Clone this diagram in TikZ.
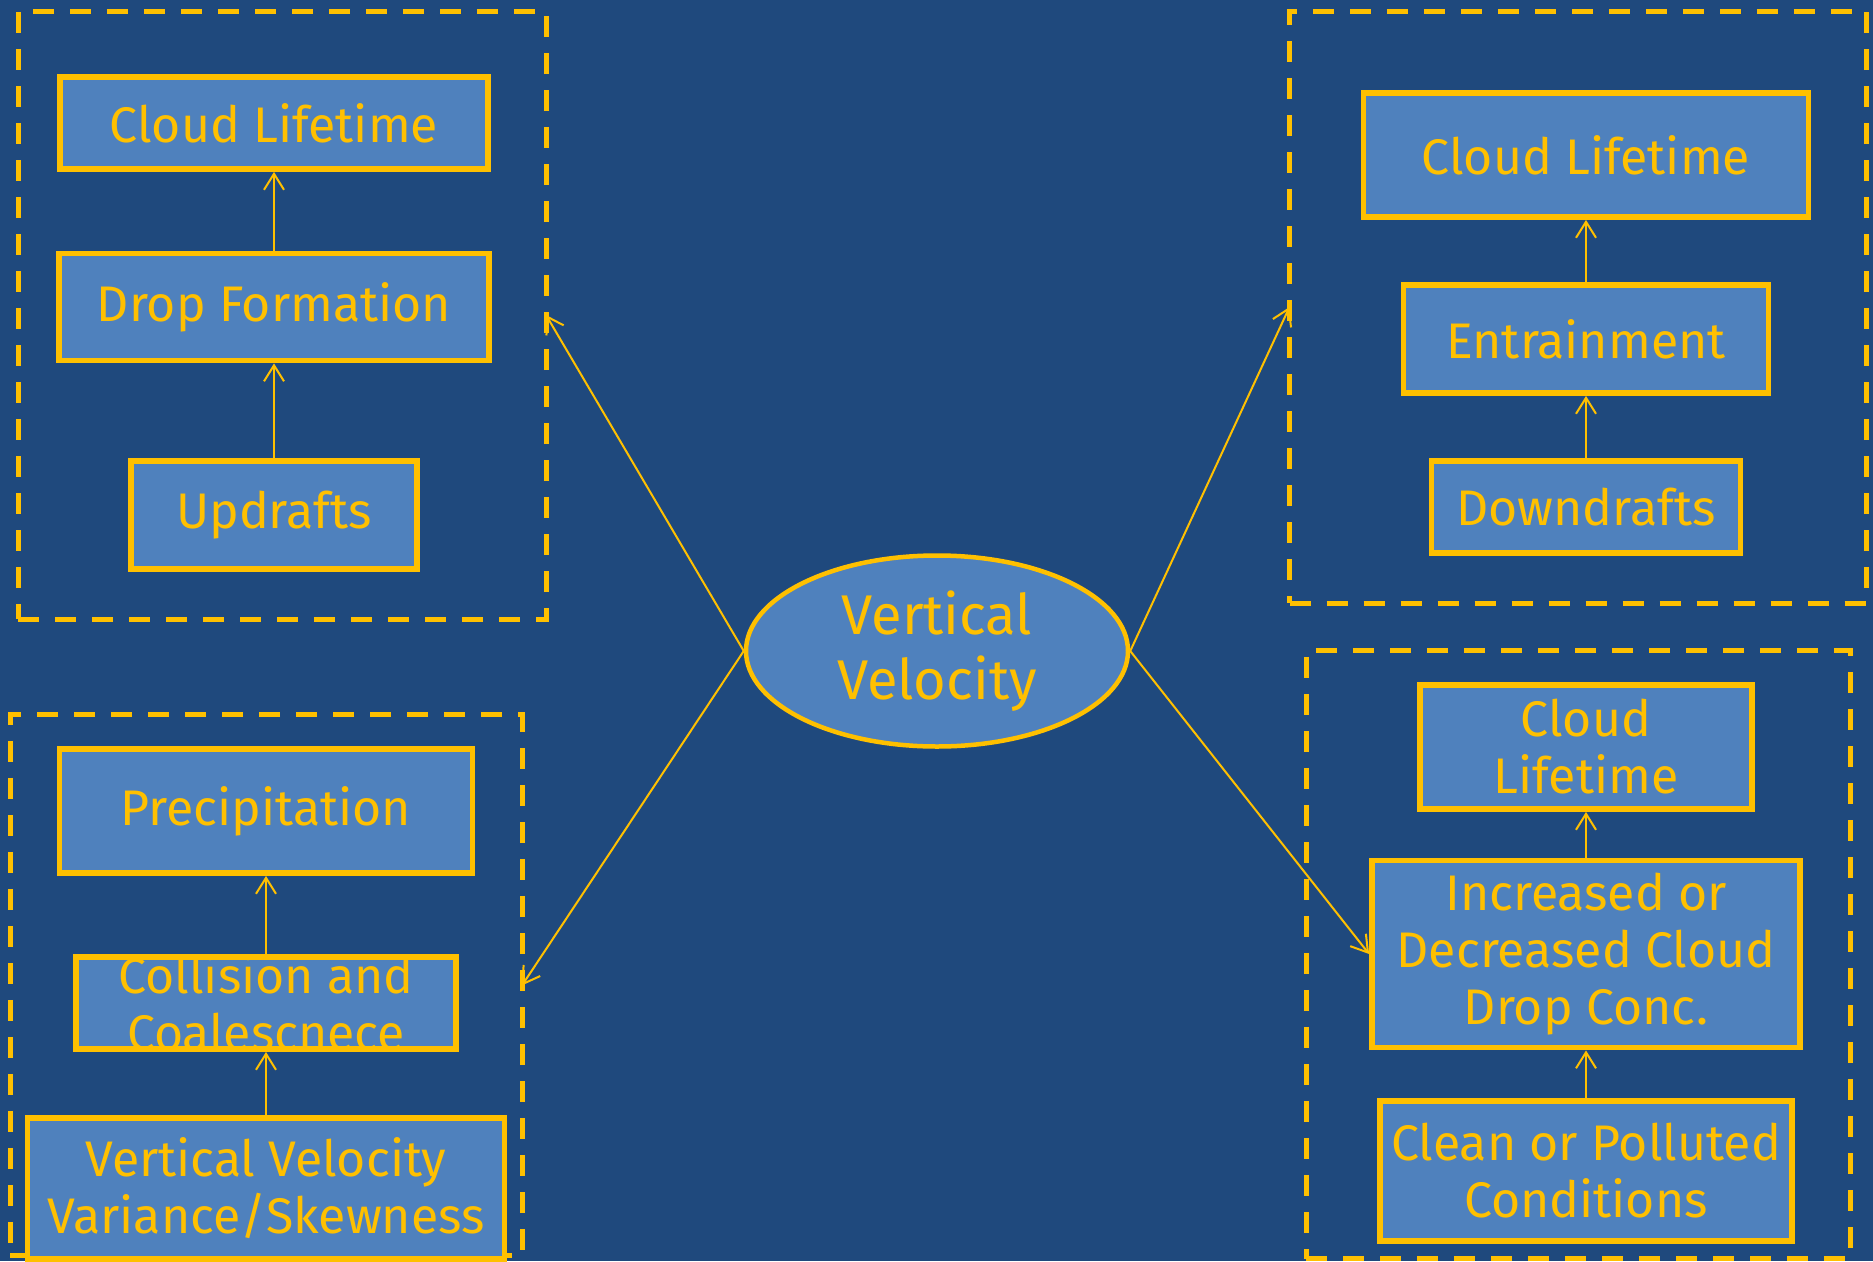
\documentclass[tikz,border=0pt]{standalone}
\usepackage{fontspec}
\setmainfont{Fira Sans}
\usepackage{xcolor}
\usetikzlibrary{shapes.geometric,arrows.meta}
\definecolor{bgblue}{HTML}{1F497D}
\definecolor{boxblue}{HTML}{4F81BD}
\definecolor{gold}{HTML}{FFC000}

\begin{document}
\begin{tikzpicture}[x=1pt, y=-1pt, >={Straight Barb[length=16pt, width=20pt]}]
\tikzstyle{every node}+=[text=gold, font=\fontsize{50}{57}\selectfont]
\tikzstyle{box}=[draw=gold, fill=boxblue, line width=5.8pt, rectangle, inner sep=0pt, align=center]
\tikzstyle{group}=[draw=gold, line width=5pt, dash pattern=on 21pt off 16pt, rectangle, inner sep=0pt, outer sep=0pt]
\tikzstyle{link}=[draw=gold, line width=2pt, ->]
\useasboundingbox (0,0) rectangle (1873,1261);
\fill[bgblue] (0,0) rectangle (1873,1261);
\clip (0,0) rectangle (1873,1261);

\node[group, minimum width=528pt, minimum height=608pt] (gA) at (282,315) {};
\node[box, minimum width=428pt, minimum height=92pt] (cla) at (274,123) {Cloud Lifetime};
\node[box, minimum width=430pt, minimum height=107pt] (drop) at (274,307) {Drop Formation};
\node[box, minimum width=286pt, minimum height=108pt] (upd) at (274,515) {Updrafts};

\node[group, minimum width=577pt, minimum height=592pt] (gB) at (1578,307) {};
\node[box, minimum width=445pt, minimum height=124pt] (clb) at (1586,155) {Cloud Lifetime};
\node[box, minimum width=365pt, minimum height=108pt] (entr) at (1586,339) {Entrainment};
\node[box, minimum width=309pt, minimum height=92pt] (down) at (1586,507) {Downdrafts};

\node[group, minimum width=512pt, minimum height=541pt] (gC) at (266,985.4) {};
\node[box, minimum width=413pt, minimum height=124pt] (prec) at (266,811) {Precipitation};
\node[box, minimum width=380pt, minimum height=92pt,
      label={[align=center]center:Collision and\\Coalescnece}] (coll) at (266,1003) {};
\node[box, minimum width=477pt, minimum height=141pt] (vvv) at (266,1188.5) {Vertical Velocity\\Variance/Skewness};

\node[group, minimum width=544pt, minimum height=608pt] (gD) at (1578,954.8) {};
\node[box, minimum width=332pt, minimum height=124pt] (clc) at (1586,747) {Cloud\\Lifetime};
\node[box, minimum width=428pt, minimum height=187pt] (incr) at (1586,954) {Increased or\\Decreased Cloud\\Drop Conc.};
\node[box, minimum width=412pt, minimum height=140pt] (clean) at (1586,1171) {Clean or Polluted\\Conditions};

\node[ellipse, draw=gold, fill=boxblue, line width=4.5pt, inner sep=0pt, align=center,
      minimum width=382pt, minimum height=191pt, font=\fontsize{56}{65}\selectfont] (ve) at (937,651) {Vertical\\Velocity};

\draw[link] (upd.north) -- (drop.south);
\draw[link] (drop.north) -- (cla.south);
\draw[link] (down.north) -- (entr.south);
\draw[link] (entr.north) -- (clb.south);
\draw[link] (vvv.north) -- (coll.south);
\draw[link] (coll.north) -- (prec.south);
\draw[link] (clean.north) -- (incr.south);
\draw[link] (incr.north) -- (clc.south);

\draw[link] (ve.west) -- (gA.east);
\draw[link] (ve.west) -- (gC.east);
\draw[link] (ve.east) -- (gB.west);
\draw[link] (ve.east) -- (incr.west);
\end{tikzpicture}
\end{document}
